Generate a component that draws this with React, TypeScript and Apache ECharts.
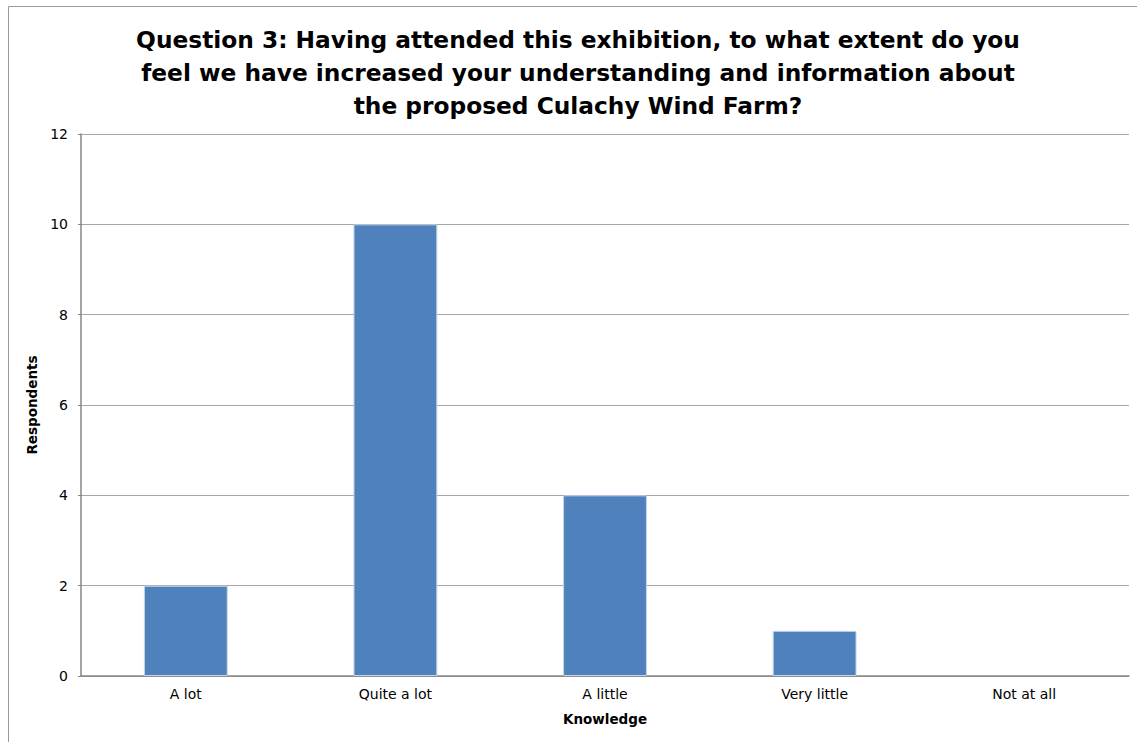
import React, { useEffect, useRef } from "react";
import * as echarts from "echarts";

const categories = ["A lot", "Quite a lot", "A little", "Very little", "Not at all"];
const respondents = [2, 10, 4, 1, 0];
const titleText =
  "Question 3: Having attended this exhibition, to what extent do you\nfeel we have increased your understanding and information about\nthe proposed Culachy Wind Farm?";

export default function App() {
  const ref = useRef<HTMLDivElement>(null);
  useEffect(() => {
    const chart = echarts.init(ref.current!, undefined, { renderer: "svg" });
    const font = "Tahoma, 'DejaVu Sans', sans-serif";
    chart.setOption({
      animation: false,
      backgroundColor: "#ffffff",
      textStyle: { fontFamily: font },
      title: {
        text: titleText,
        left: 573,
        top: 18,
        textAlign: "center",
        textStyle: {
          fontFamily: font,
          fontSize: 23.3,
          fontWeight: "bold",
          color: "#000000",
          lineHeight: 33,
        },
      },
      graphic: [
        {
          type: "rect",
          shape: { x: 8.5, y: 6.5, width: 1200, height: 800 },
          style: { fill: "none", stroke: "#9a9a9a", lineWidth: 1 },
          silent: true,
        },
      ],
      grid: { left: 81, top: 134, width: 1048, height: 542, containLabel: false },
      xAxis: {
        type: "category",
        data: categories,
        name: "Knowledge",
        nameLocation: "middle",
        nameGap: 36,
        nameTextStyle: { fontFamily: font, fontSize: 13.5, fontWeight: "bold", color: "#000" },
        axisLine: { show: true, lineStyle: { color: "#868686", width: 1.5 } },
        axisTick: { show: false },
        axisLabel: { fontFamily: font, fontSize: 14, color: "#000", margin: 11 },
        splitLine: { show: false },
      },
      yAxis: {
        type: "value",
        min: 0,
        max: 12,
        interval: 2,
        name: "Respondents",
        nameLocation: "middle",
        nameGap: 38,
        nameTextStyle: { fontFamily: font, fontSize: 13.5, fontWeight: "bold", color: "#000" },
        axisLine: { show: true, lineStyle: { color: "#868686", width: 1.5 } },
        axisTick: { show: true, length: 3, lineStyle: { color: "#868686" } },
        axisLabel: { fontFamily: font, fontSize: 14, color: "#000", margin: 13 },
        splitLine: { show: true, lineStyle: { color: "#a6a6a6", width: 1 } },
      },
      series: [
        {
          type: "bar",
          data: respondents.map((v) =>
            v === 0 ? { value: v, itemStyle: { borderWidth: 0 } } : v
          ),
          barWidth: "40%",
          itemStyle: { color: "#4F81BD", borderColor: "#c6d4e8", borderWidth: 1 },
        },
      ],
    });
    return () => chart.dispose();
  }, []);
  return (
    <div
      ref={ref}
      style={{ position: "absolute", left: 0, top: 0, width: 1137, height: 742 }}
    />
  );
}
